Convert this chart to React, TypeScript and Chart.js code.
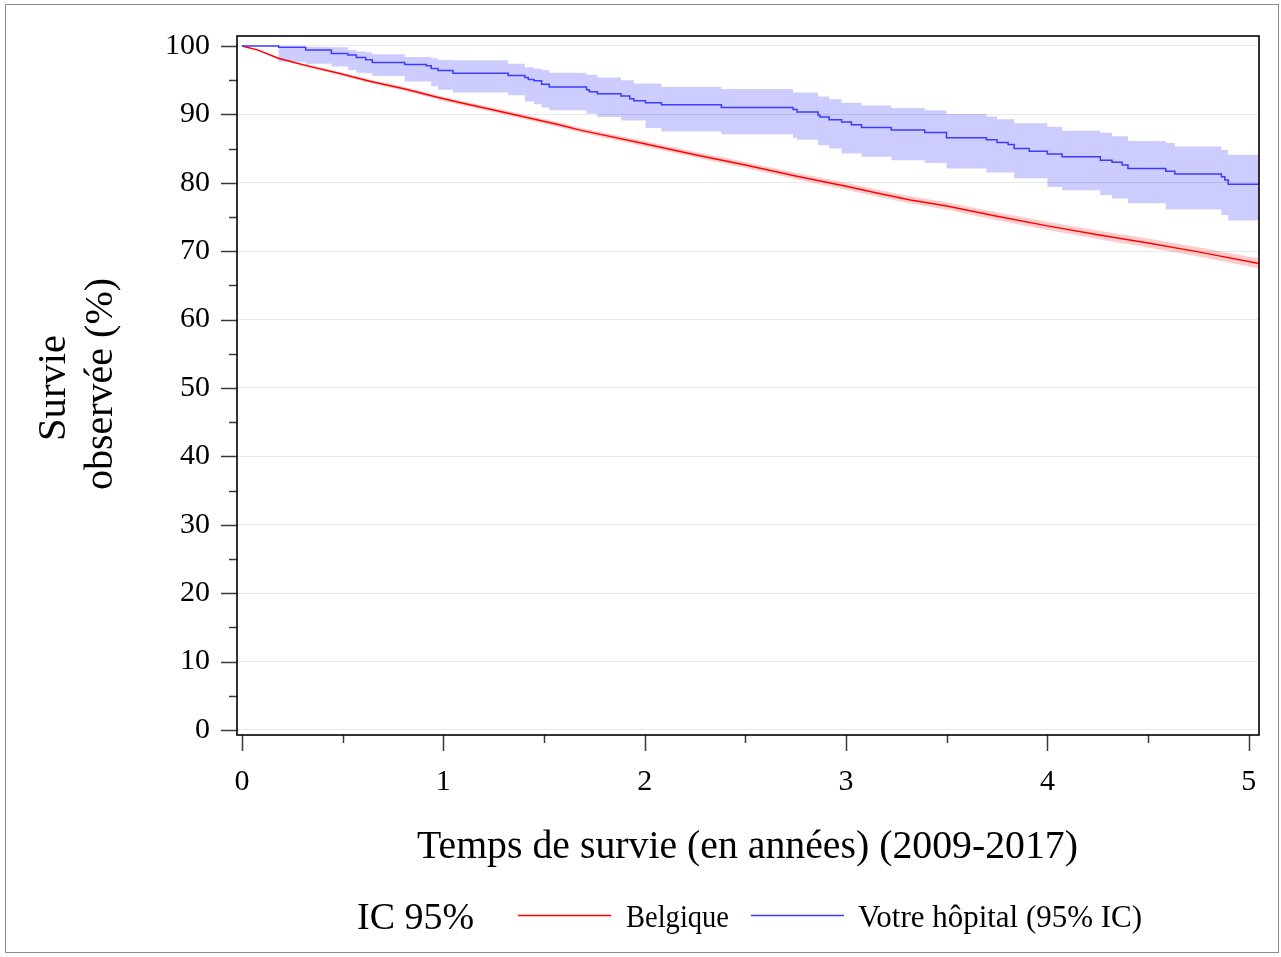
import React, { useEffect, useRef } from 'react';
import { Chart, registerables } from 'chart.js';

Chart.register(...registerables);

// ---- Data ----
const blueT = [0, 0.182, 0.316, 0.444, 0.526, 0.568, 0.614, 0.647, 0.808, 0.915, 0.94, 0.973, 1.048, 1.322, 1.405, 1.422, 1.45, 1.488, 1.526, 1.711, 1.725, 1.765, 1.882, 1.926, 1.946, 2.004, 2.083, 2.381, 2.737, 2.757, 2.861, 2.87, 2.916, 2.978, 3.027, 3.077, 3.225, 3.391, 3.499, 3.697, 3.75, 3.805, 3.835, 3.91, 4.0, 4.073, 4.263, 4.321, 4.371, 4.4, 4.588, 4.633, 4.864, 4.881, 4.898, 5.051];
const blueSurv = [100, 99.8, 99.4, 98.9, 98.7, 98.3, 98.0, 97.6, 97.3, 97.1, 96.7, 96.4, 96.0, 95.7, 95.4, 95.1, 94.9, 94.4, 94.0, 93.6, 93.3, 93.0, 92.7, 92.3, 92.0, 91.7, 91.4, 91.0, 90.7, 90.35, 89.9, 89.6, 89.2, 88.9, 88.5, 88.1, 87.7, 87.35, 86.6, 86.3, 85.9, 85.6, 85.0, 84.6, 84.2, 83.8, 83.3, 83.0, 82.6, 82.1, 81.7, 81.3, 80.9, 80.4, 79.8, 79.8];
const blueUpper = [100, 99.9, 99.85, 99.8, 99.4, 99.2, 99.1, 98.8, 98.4, 98.4, 98.2, 97.95, 97.9, 97.4, 96.9, 96.9, 96.7, 96.5, 96.1, 95.8, 95.8, 95.4, 95.0, 95.0, 94.5, 94.5, 94.0, 93.7, 93.2, 93.2, 92.6, 92.6, 92.2, 91.7, 91.7, 91.3, 90.95, 90.6, 90.06, 89.7, 89.3, 89.3, 88.7, 88.7, 88.2, 87.6, 87.3, 86.8, 86.8, 86.1, 85.8, 85.3, 84.8, 84.8, 84.1, 84.1];
const blueLower = [100, 97.7, 97.4, 97.0, 96.5, 96.1, 96.0, 95.6, 94.8, 94.8, 94.1, 93.6, 93.2, 92.8, 91.9, 91.9, 91.5, 91.0, 90.6, 90.1, 90.1, 89.6, 89.1, 89.1, 89.1, 88.0, 87.5, 87.1, 86.6, 86.3, 85.5, 85.5, 85.0, 84.3, 84.3, 83.8, 83.3, 82.9, 82.1, 81.5, 81.5, 81.5, 80.65, 80.65, 79.4, 78.9, 78.2, 77.7, 77.7, 77.0, 76.1, 76.1, 75.3, 75.3, 74.5, 74.5];

const redT = [0, 0.08, 0.18, 0.31, 0.48, 0.64, 0.81, 0.97, 1.07, 1.3, 1.58, 1.68, 2.0, 2.25, 2.5, 2.75, 3.0, 3.17, 3.32, 3.5, 3.75, 4.0, 4.25, 4.5, 4.75, 5.051];
const redSurv = [100, 99.4, 98.2, 97.2, 96.0, 94.8, 93.7, 92.5, 91.8, 90.3, 88.45, 87.7, 85.7, 84.1, 82.6, 81.0, 79.5, 78.4, 77.5, 76.6, 75.1, 73.7, 72.4, 71.2, 69.9, 68.2];
const redUpper = [100, 99.5, 98.35, 97.4, 96.22, 95.05, 93.97, 92.8, 92.1, 90.63, 88.8, 88.06, 86.1, 84.52, 83.05, 81.47, 80.0, 78.92, 78.03, 77.15, 75.68, 74.3, 73.02, 71.85, 70.58, 68.92];
const redLower = [100, 99.3, 98.05, 97.0, 95.78, 94.55, 93.43, 92.2, 91.5, 89.97, 88.1, 87.34, 85.3, 83.68, 82.15, 80.53, 79.0, 77.88, 76.97, 76.05, 74.52, 73.1, 71.78, 70.55, 69.22, 67.48];

const yTicks = [0, 10, 20, 30, 40, 50, 60, 70, 80, 90, 100];
const yMinorTicks = [5, 15, 25, 35, 45, 55, 65, 75, 85, 95];
const xTicks = [0, 1, 2, 3, 4, 5];
const xMinorTicks = [0.5, 1.5, 2.5, 3.5, 4.5];

const xTitle = 'Temps de survie (en années) (2009-2017)';
const yTitleLines = ['Survie', 'observée (%)'];
const legendTitle = 'IC 95%';
const seriesNames = ['Belgique', 'Votre hôpital (95% IC)'];

// ---- Styles / layout ----
const W = 1281;
const H = 957;
const FONT = '"Liberation Serif", "Times New Roman", serif';
const RED = '#ff0000';
const BLUE = '#3c3cff';
const RED_BAND = 'rgba(255,0,0,0.2)';
const BLUE_BAND = 'rgba(0,0,255,0.2)';

const pts = (xs: number[], ys: number[]) => xs.map((x, i) => ({ x, y: ys[i] }));

function drawFitText(ctx: CanvasRenderingContext2D, text: string, x: number, y: number, size: number, targetW: number, align: 'left' | 'center', rotate = false) {
  ctx.save();
  ctx.font = `${size}px ${FONT}`;
  ctx.fillStyle = '#000';
  ctx.textBaseline = 'alphabetic';
  ctx.textAlign = align;
  const w = ctx.measureText(text).width;
  const s = targetW / w;
  ctx.translate(x, y);
  if (rotate) ctx.rotate(-Math.PI / 2);
  ctx.scale(s, 1);
  ctx.fillText(text, 0, 0);
  ctx.restore();
}

const decor = {
  id: 'decor',
  beforeDraw(chart: any) {
    const ctx = chart.ctx as CanvasRenderingContext2D;
    ctx.save();
    ctx.fillStyle = '#fff';
    ctx.fillRect(0, 0, W, H);
    ctx.strokeStyle = '#8a8a8a';
    ctx.lineWidth = 1;
    ctx.strokeRect(5.5, 4.5, 1273, 948);
    ctx.restore();
  },
  afterDraw(chart: any) {
    const ctx = chart.ctx as CanvasRenderingContext2D;
    const a = chart.chartArea;
    const xs = chart.scales.x;
    const ys = chart.scales.y;
    ctx.save();
    // ticks
    ctx.strokeStyle = '#3a3a3a';
    ctx.lineWidth = 1.5;
    ctx.beginPath();
    yTicks.forEach((v) => { const p = Math.round(ys.getPixelForValue(v)) + 0.5; ctx.moveTo(a.left - 16, p); ctx.lineTo(a.left, p); });
    yMinorTicks.forEach((v) => { const p = Math.round(ys.getPixelForValue(v)) + 0.5; ctx.moveTo(a.left - 8, p); ctx.lineTo(a.left, p); });
    xTicks.forEach((v) => { const p = Math.round(xs.getPixelForValue(v)) + 0.5; ctx.moveTo(p, a.bottom); ctx.lineTo(p, a.bottom + 16); });
    xMinorTicks.forEach((v) => { const p = Math.round(xs.getPixelForValue(v)) + 0.5; ctx.moveTo(p, a.bottom); ctx.lineTo(p, a.bottom + 8); });
    ctx.stroke();
    // frame
    ctx.strokeStyle = '#000';
    ctx.lineWidth = 1.6;
    ctx.strokeRect(a.left, a.top, a.right - a.left, a.bottom - a.top);
    ctx.restore();

    // axis titles
    drawFitText(ctx, xTitle, 747.5, 858, 41, 661, 'center');
    drawFitText(ctx, yTitleLines[0], 65, 388, 40, 106, 'center', true);
    drawFitText(ctx, yTitleLines[1], 111.5, 384, 40, 212, 'center', true);

    // legend
    drawFitText(ctx, legendTitle, 357, 929, 38, 117, 'left');
    ctx.save();
    ctx.lineWidth = 1.5;
    ctx.strokeStyle = RED;
    ctx.beginPath(); ctx.moveTo(518, 915.5); ctx.lineTo(611, 915.5); ctx.stroke();
    ctx.strokeStyle = BLUE;
    ctx.beginPath(); ctx.moveTo(751, 915.5); ctx.lineTo(844, 915.5); ctx.stroke();
    ctx.restore();
    drawFitText(ctx, seriesNames[0], 626, 927, 31, 103, 'left');
    drawFitText(ctx, seriesNames[1], 858, 927, 31, 284, 'left');
  },
};

export default function App() {
  const ref = useRef<HTMLCanvasElement | null>(null);
  useEffect(() => {
    document.body.style.overflow = 'hidden';
    const canvas = ref.current!;
    const chart = new Chart(canvas, {
      type: 'line',
      data: {
        datasets: [
          { label: seriesNames[1], data: pts(blueT, blueSurv), stepped: 'before', borderColor: BLUE, borderWidth: 1.5, pointRadius: 0, fill: false },
          { label: seriesNames[0], data: pts(redT, redSurv), borderColor: RED, borderWidth: 1.5, pointRadius: 0, fill: false, tension: 0 },
          { label: 'blueUpper', data: pts(blueT, blueUpper), stepped: 'before', borderWidth: 0, borderColor: 'rgba(0,0,0,0)', backgroundColor: BLUE_BAND, pointRadius: 0, fill: '+1' },
          { label: 'blueLower', data: pts(blueT, blueLower), stepped: 'before', borderWidth: 0, borderColor: 'rgba(0,0,0,0)', pointRadius: 0, fill: false },
          { label: 'redUpper', data: pts(redT, redUpper), borderWidth: 0, borderColor: 'rgba(0,0,0,0)', backgroundColor: RED_BAND, pointRadius: 0, fill: '+1' },
          { label: 'redLower', data: pts(redT, redLower), borderWidth: 0, borderColor: 'rgba(0,0,0,0)', pointRadius: 0, fill: false },
        ],
      },
      options: {
        responsive: false,
        animation: false,
        events: [],
        layout: { padding: { left: 0, top: 36, right: 22, bottom: 0 } },
        plugins: { legend: { display: false }, tooltip: { enabled: false }, title: { display: false } },
        scales: {
          x: {
            type: 'linear',
            min: -0.0248,
            max: 5.051,
            afterFit: (s: any) => { s.height = 222; },
            afterBuildTicks: (s: any) => { s.ticks = xTicks.map((v) => ({ value: v })); },
            grid: { display: true, drawOnChartArea: false, color: 'rgba(0,0,0,0)', drawTicks: true, tickLength: 29, tickColor: 'rgba(0,0,0,0)' },
            border: { display: false },
            ticks: { padding: 0, color: '#000', font: { family: FONT, size: 30 }, maxRotation: 0, autoSkip: false },
          },
          y: {
            type: 'linear',
            min: -0.731,
            max: 101.46,
            afterFit: (s: any) => { s.width = 237; },
            afterBuildTicks: (s: any) => { s.ticks = yTicks.map((v) => ({ value: v })); },
            grid: { color: '#e8e8e8', lineWidth: 1, drawTicks: true, tickLength: 27, tickColor: 'rgba(0,0,0,0)' },
            border: { display: false },
            ticks: { padding: 0, color: '#000', font: { family: FONT, size: 30 }, autoSkip: false },
          },
        },
      },
      plugins: [decor],
    } as any);
    return () => chart.destroy();
  }, []);
  return (
    <div style={{ position: 'absolute', left: 0, top: 0, width: W, height: H }}>
      <canvas ref={ref} width={W} height={H} style={{ display: 'block' }} />
    </div>
  );
}
